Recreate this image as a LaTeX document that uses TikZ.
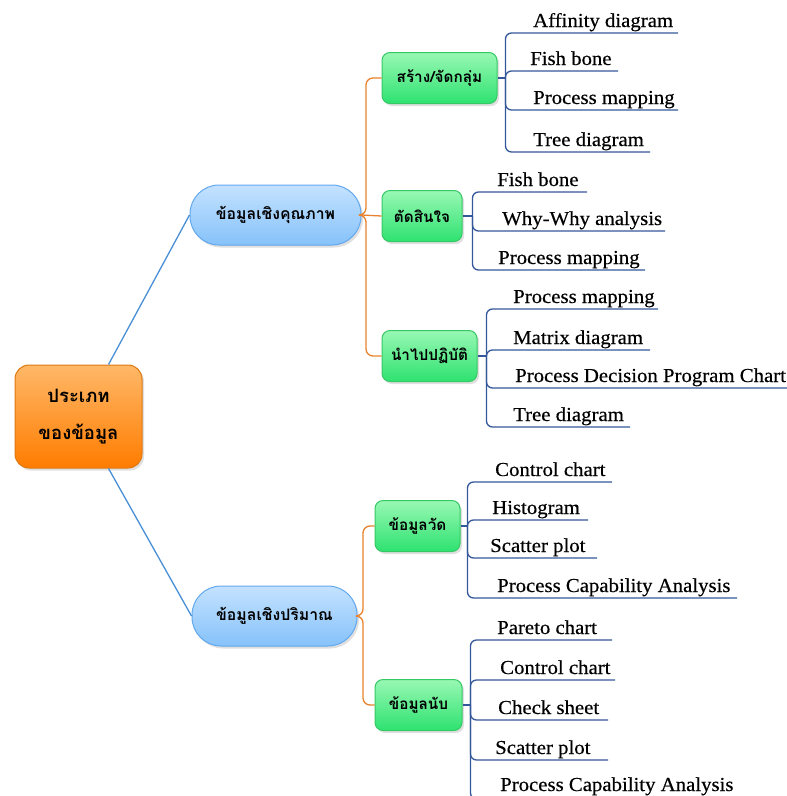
\documentclass[tikz,border=0pt]{standalone}
\usepackage{fontspec}
\setmainfont{Liberation Serif}[FakeStretch=1.05, FakeBold=0.4]
\newfontfamily\thaifont[Script=Thai]{Loma}
\usetikzlibrary{shadows}

\definecolor{rootedge}{HTML}{E07810}
\definecolor{roottop}{HTML}{FFB868}
\definecolor{rootbot}{HTML}{FF7C00}
\definecolor{blueedge}{HTML}{62A8EE}
\definecolor{bluetop}{HTML}{C4E2FF}
\definecolor{bluebot}{HTML}{86C2FA}
\definecolor{greenedge}{HTML}{36C865}
\definecolor{greentop}{HTML}{98F8B4}
\definecolor{greenbot}{HTML}{2EE270}
\definecolor{linkblue}{HTML}{4A90D6}
\definecolor{linkorange}{HTML}{E8822E}
\definecolor{leafblue}{HTML}{34579A}

\tikzset{
  boxshadow/.style={drop shadow={opacity=0.25, shadow xshift=2pt, shadow yshift=-2.5pt}},
  rootbox/.style={draw=rootedge, line width=1pt, rounded corners=14pt,
    top color=roottop, bottom color=rootbot, boxshadow,
    minimum width=127pt, minimum height=103pt, inner sep=0pt, align=center,
    font=\thaifont\bfseries\fontsize{18.5}{37}\selectfont},
  bluebox/.style={draw=blueedge, line width=1pt, rounded corners=29pt,
    top color=bluetop, bottom color=bluebot, boxshadow,
    minimum height=60pt, inner sep=0pt,
    font=\thaifont\bfseries\fontsize{15.8}{18}\selectfont},
  greenbox/.style={draw=greenedge, line width=1pt, rounded corners=8pt,
    top color=greentop, bottom color=greenbot, boxshadow,
    minimum height=51pt, inner sep=0pt,
    font=\thaifont\bfseries\fontsize{15.3}{18}\selectfont},
  leaftext/.style={anchor=base west, inner sep=0pt, font=\fontsize{19.8}{22}\selectfont},
  mainlink/.style={draw=linkblue, line width=1.3pt},
  sublink/.style={draw=linkorange, line width=1.3pt, rounded corners=7pt},
  leafline/.style={draw=leafblue, line width=1.3pt, rounded corners=6pt},
}

\begin{document}
\begin{tikzpicture}[x=1pt, y=-1pt]
\useasboundingbox (0,0) rectangle (787,796);

% root and main branches
\node[rootbox] (root) at (78.5,416.5) {ประเภท\\ของข้อมูล};
\node[bluebox, minimum width=171pt] (qual) at (275.5,215) {ข้อมูลเชิงคุณภาพ};
\node[bluebox, minimum width=165pt] (quan) at (274.5,616) {ข้อมูลเชิงปริมาณ};

\draw[mainlink] (root.60) -- (qual.west);
\draw[mainlink] (root.-60) -- (quan.west);

% second level
\node[greenbox, minimum width=115pt] (g1) at (439.5,78) {สร้าง/จัดกลุ่ม};
\node[greenbox, minimum width=80pt]  (g2) at (422,216) {ตัดสินใจ};
\node[greenbox, minimum width=95pt]  (g3) at (429.5,356) {นำไปปฏิบัติ};
\node[greenbox, minimum width=85pt]  (g4) at (417.5,526) {ข้อมูลวัด};
\node[greenbox, minimum width=87pt]  (g5) at (418.5,705) {ข้อมูลนับ};

\coordinate (qj) at (366,215);
\coordinate (nj) at (363,616);
\draw[sublink] (qual.east) -- (qj) |- (g1.west);
\draw[sublink] (qual.east) -- (g2.west);
\draw[sublink] (qual.east) -- (qj) |- (g3.west);
\draw[sublink] (quan.east) -- (nj) |- (g4.west);
\draw[sublink] (quan.east) -- (nj) |- (g5.west);

% junction points of the leaf brackets
\path (g1.east) ++(8,0)  coordinate (j1);
\path (g2.east) ++(10,0) coordinate (j2);
\path (g3.east) ++(9,0)  coordinate (j3);
\path (g4.east) ++(7,0)  coordinate (j4);
\path (g5.east) ++(8,0)  coordinate (j5);
\foreach \g/\j in {g1/j1,g2/j2,g3/j3,g4/j4,g5/j5}
  \draw[leafline] (\g.east) -- (\j);

% leaves of g1
\node[leaftext] (a1) at (533,27)  {Affinity diagram};
\node[leaftext] (a2) at (530,65)  {Fish bone};
\node[leaftext] (a3) at (533,104) {Process mapping};
\node[leaftext] (a4) at (533,146) {Tree diagram};
\coordinate (ea1) at (678,33);
\coordinate (ea2) at (618,71);
\coordinate (ea3) at (678,110);
\coordinate (ea4) at (650,152);
\foreach \e in {ea1,ea2,ea3,ea4}
  \draw[leafline] (j1) |- (\e);

% leaves of g2
\node[leaftext] (b1) at (497,186) {Fish bone};
\node[leaftext] (b2) at (502,225) {Why-Why analysis};
\node[leaftext] (b3) at (498,264) {Process mapping};
\coordinate (eb1) at (587,192);
\coordinate (eb2) at (665,231);
\coordinate (eb3) at (645,270);
\foreach \e in {eb1,eb2,eb3}
  \draw[leafline] (j2) |- (\e);

% leaves of g3
\node[leaftext] (c1) at (513,303) {Process mapping};
\node[leaftext] (c2) at (513,344) {Matrix diagram};
\node[leaftext] (c3) at (515,382) {Process Decision Program Chart};
\node[leaftext] (c4) at (513,421) {Tree diagram};
\coordinate (ec1) at (658,309);
\coordinate (ec2) at (650,350);
\coordinate (ec3) at (787,388);
\coordinate (ec4) at (630,427);
\foreach \e in {ec1,ec2,ec3,ec4}
  \draw[leafline] (j3) |- (\e);

% leaves of g4
\node[leaftext] (d1) at (495,476) {Control chart};
\node[leaftext] (d2) at (492,514) {Histogram};
\node[leaftext] (d3) at (490,552) {Scatter plot};
\node[leaftext] (d4) at (497,592) {Process Capability Analysis};
\coordinate (ed1) at (612,482);
\coordinate (ed2) at (588,520);
\coordinate (ed3) at (597,558);
\coordinate (ed4) at (737,598);
\foreach \e in {ed1,ed2,ed3,ed4}
  \draw[leafline] (j4) |- (\e);

% leaves of g5
\node[leaftext] (f1) at (497,634) {Pareto chart};
\node[leaftext] (f2) at (500,674) {Control chart};
\node[leaftext] (f3) at (498,714) {Check sheet};
\node[leaftext] (f4) at (495,754) {Scatter plot};
\node[leaftext] (f5) at (500,791) {Process Capability Analysis};
\coordinate (ef1) at (612,640);
\coordinate (ef2) at (615,680);
\coordinate (ef3) at (608,720);
\coordinate (ef4) at (608,760);
\coordinate (ef5) at (737,799);
\foreach \e in {ef1,ef2,ef3,ef4,ef5}
  \draw[leafline] (j5) |- (\e);
\end{tikzpicture}
\end{document}
